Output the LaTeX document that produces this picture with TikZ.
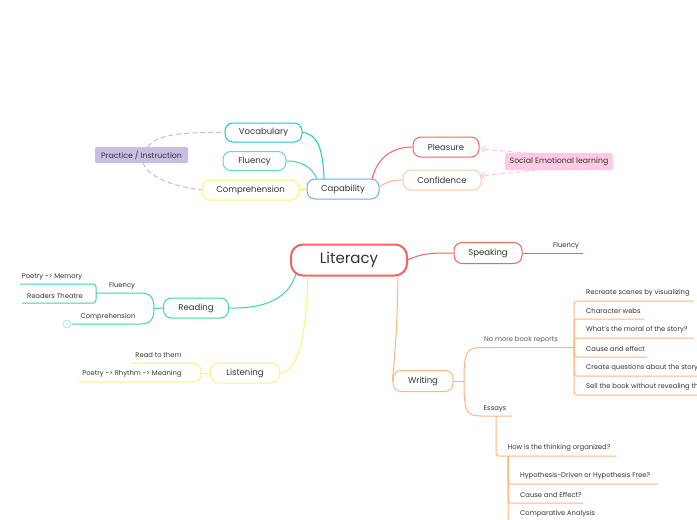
\documentclass[tikz,border=0pt]{standalone}
\usepackage{fontspec}
\setmainfont{Poppins}
\usetikzlibrary{arrows.meta}
\definecolor{cred}{HTML}{F26461}
\definecolor{corange}{HTML}{FFB583}
\definecolor{clorange}{HTML}{FFCBA6}
\definecolor{cgreen}{HTML}{45D3A2}
\definecolor{ccyan}{HTML}{1CC8D0}
\definecolor{cyellow}{HTML}{FFF07C}
\definecolor{cblue}{HTML}{6EAEEE}
\definecolor{cpurple}{HTML}{C8BEE4}
\definecolor{cpurpled}{HTML}{C4B9E9}
\definecolor{cpink}{HTML}{FFCBE4}
\definecolor{cpinkd}{HTML}{FFC3DF}
\definecolor{ctext}{HTML}{333333}
\begin{document}
\begin{tikzpicture}[x=1pt,y=-1pt,
  box/.style={draw, line width=1pt, rounded corners=8pt, fill=white, inner sep=0pt, text=ctext, font=\fontsize{8.5}{10}\selectfont},
  lbl/.style={inner sep=0pt, text=ctext, font=\fontsize{6.8}{8}\selectfont},
  tag/.style={rounded corners=2pt, inner sep=0pt, text=ctext, font=\fontsize{7.8}{9}\selectfont},
  br/.style={line width=1pt},
]
\useasboundingbox[fill=white] (0,0) rectangle (697,520);

% ---------- main nodes ----------
\node[box, draw=cred, line width=2pt, rounded corners=12pt, minimum width=116pt, minimum height=31pt, font=\fontsize{15}{17}\selectfont] (lit) at (349,260) {Literacy};
\node[box, draw=cred, minimum width=68pt, minimum height=21pt] (spk) at (488,253) {Speaking};
\node[box, draw=corange, minimum width=60pt, minimum height=21pt] (wri) at (423,381) {Writing};
\node[box, draw=cgreen, minimum width=65pt, minimum height=20pt] (rea) at (196,308) {Reading};
\node[box, draw=cyellow, minimum width=69pt, minimum height=20pt] (lis) at (245,373) {Listening};

\node[box, draw=cblue, minimum width=72pt, minimum height=20pt] (cap) at (343,189) {Capability};
\node[box, draw=ccyan, minimum width=77pt, minimum height=19pt] (voc) at (263.5,132.5) {Vocabulary};
\node[box, draw=cgreen!80, minimum width=63pt, minimum height=19pt] (flu) at (254.5,161) {Fluency};
\node[box, draw=cyellow, minimum width=97pt, minimum height=20pt] (com) at (250.5,190) {Comprehension};
\node[box, draw=cred, minimum width=66pt, minimum height=20pt] (ple) at (446,147) {Pleasure};
\node[box, draw=clorange, minimum width=78pt, minimum height=20pt] (con) at (442,180) {Confidence};
\node[tag, fill=cpurple, minimum width=93pt, minimum height=16pt] (pra) at (141.5,155) {Practice / Instruction};
\node[tag, fill=cpink, minimum width=108pt, minimum height=17pt] (sel) at (559,161.5) {Social Emotional learning};

% ---------- capability connectors ----------
\draw[br, ccyan] (voc.east) .. controls (318,134) and (323,150) .. (324,179);
\draw[br, cgreen] (flu.east) .. controls (305,161) and (313,170) .. (317,179);
\draw[line width=2pt, cyellow] (com.east) -- (cap.west);
\draw[br, cred] (372,179) .. controls (378,155) and (395,147) .. (ple.west);
\draw[br, corange] (379,187) .. controls (388,181) and (395,180) .. (con.west);

\draw[br, cpurpled, dashed, dash pattern=on 5pt off 3pt] (148,147) .. controls (155,135) and (180,132) .. (voc.west);
\draw[br, cpurpled, dashed, dash pattern=on 5pt off 3pt] (143,163) .. controls (150,180) and (180,187) .. (com.west);
\coordinate (selA) at (537,154);
\coordinate (selB) at (537,170);
\draw[br, cpinkd, dashed, dash pattern=on 5pt off 3pt, -{Straight Barb[length=3pt,width=6pt]}] (selA) -- (481,149);
\draw[br, cpinkd, dashed, dash pattern=on 5pt off 3pt, -{Straight Barb[length=3pt,width=6pt]}] (selB) -- (481,176);

% ---------- literacy connectors ----------
\draw[br, cred] (lit.east) .. controls (422,253) and (432,253) .. (spk.west);
\draw[br, corange] (398,276) .. controls (397,340) and (394,360) .. (wri.west);
\draw[br, cgreen] (rea.east) .. controls (275,309) and (290,292) .. (296,274);
\draw[br, cyellow] (lis.east) .. controls (300,372) and (306,330) .. (308,276);

% ---------- speaking ----------
\coordinate (spkE) at (583,253);
\draw[br, cred] (spk.east) -- (spkE);
\node[lbl] (spkflu) at (566,246) {Fluency};

% ---------- writing ----------
\coordinate (wB) at (464,381);
\coordinate (nmS) at (482,347.5);
\coordinate (nmE) at (574,347.5);
\coordinate (esS) at (482,416);
\coordinate (esE) at (512,416);
\draw[br, corange] (wri.east) -- (wB);
\draw[br, corange] (wB) .. controls (464,352) and (466,347.5) .. (nmS) -- (nmE);
\draw[br, corange] (wB) .. controls (464,412) and (466,416) .. (esS) -- (esE);
\node[lbl, text=ctext!80] (nm) at (521,340) {No more book reports};
\node[lbl] (ess) at (495,409) {Essays};

\foreach \y/\e/\t in {301/694/Recreate scenes by visualizing, 319/644/Character webs, 338/694/What's the moral of the story?, 357/647/Cause and effect, 376/700/Create questions about the story, 395/720/Sell the book without revealing the ending}{
  \draw[br, corange, rounded corners=3pt] (nmE) |- (\e,\y);
  \node[lbl, anchor=west] at (586,\y-8) {\t};
}

\coordinate (hwS) at (496,456);
\coordinate (hwE) at (616,456);
\draw[br, corange, rounded corners=3pt] (496,416) |- (hwE);
\node[lbl] (hw) at (559,448) {How is the thinking organized?};
\coordinate (hwB) at (508,456);
\foreach \y/\e/\t in {484/658/Hypothesis-Driven or Hypothesis Free?, 503/583/Cause and Effect?, 522/620/Comparative Analysis}{
  \draw[br, corange, rounded corners=3pt] (hwB) |- (\e,\y);
  \node[lbl, anchor=west] at (520,\y-8) {\t};
}

% ---------- reading ----------
\coordinate (rB) at (154,308.5);
\draw[br, cgreen] (rea.west) -- (rB);
\coordinate (rfE) at (96,293);
\coordinate (rcE) at (72,324);
\draw[br, cgreen] (rB) .. controls (154,297) and (150,293) .. (140,293) -- (rfE);
\draw[br, cgreen] (rB) .. controls (154,320) and (150,324) .. (140,324) -- (rcE);
\node[lbl] (rflu) at (122,286) {Fluency};
\node[lbl] (rcom) at (108,317) {Comprehension};
\node[circle, draw=cgreen!60, line width=0.6pt, minimum size=8pt, inner sep=0pt, font=\fontsize{3.5}{4}\selectfont, text=cgreen] (coll) at (67,324) {1};
\draw[br, cgreen, rounded corners=3pt] (rfE) -- (96,284) -- (20,284);
\draw[br, cgreen, rounded corners=3pt] (rfE) -- (96,303) -- (22,303);
\node[lbl] (pm) at (52,277) {Poetry -> Memory};
\node[lbl] (rt) at (55,296) {Readers Theatre};

% ---------- listening ----------
\coordinate (lB) at (201,373);
\draw[br, cyellow] (lis.west) -- (lB);
\draw[br, cyellow] (lB) .. controls (201,365) and (198,363) .. (190,363) -- (131,363);
\draw[br, cyellow] (lB) .. controls (201,380) and (198,382) .. (190,382) -- (79,382);
\node[lbl] (rtt) at (158.5,355.5) {Read to them};
\node[lbl] (prm) at (132,374) {Poetry -> Rhythm -> Meaning};

\end{tikzpicture}
\end{document}
